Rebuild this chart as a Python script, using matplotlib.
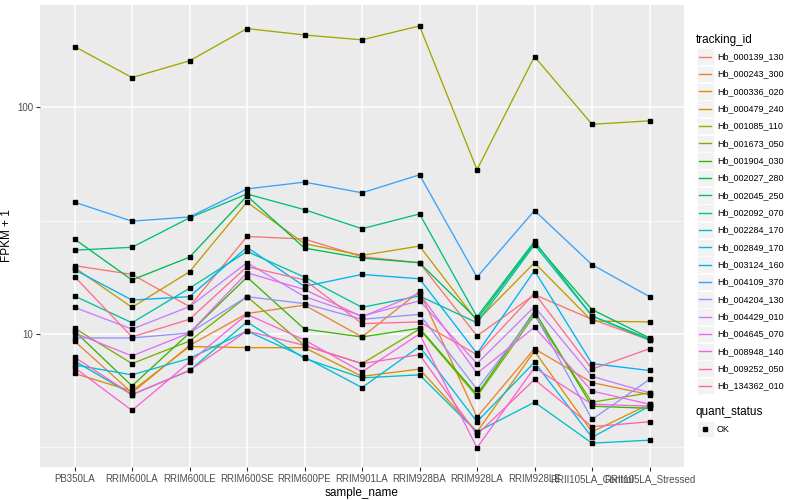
import numpy as np
import matplotlib
matplotlib.use('Agg')
import matplotlib.pyplot as plt
from matplotlib.lines import Line2D
from matplotlib.patches import Rectangle

plt.rcParams['font.family'] = ['Liberation Sans', 'DejaVu Sans']

samples = ['PB350LA', 'RRIM600LA', 'RRIM600LE', 'RRIM600SE', 'RRIM600PE', 'RRIM901LA',
           'RRIM928BA', 'RRIM928LA', 'RRIM928LE', 'RRII105LA_Control', 'RRII105LA_Stressed']

tracking_ids = ['Hb_000139_130', 'Hb_000243_300', 'Hb_000336_020', 'Hb_000479_240',
                'Hb_001085_110', 'Hb_001673_050', 'Hb_001904_030', 'Hb_002027_280',
                'Hb_002045_250', 'Hb_002092_070', 'Hb_002284_170', 'Hb_002849_170',
                'Hb_003124_160', 'Hb_004109_370', 'Hb_004204_130', 'Hb_004429_010',
                'Hb_004645_070', 'Hb_008948_140', 'Hb_009252_050', 'Hb_134362_010']

# ggplot hue palette, 20 levels
colors = ['#F8766D', '#EA8331', '#D89000', '#C09B00', '#A3A500', '#7CAE00', '#39B600',
          '#00BB4E', '#00BF7D', '#00C1A3', '#00BFC4', '#00BAE0', '#00B0F6', '#35A2FF',
          '#9590FF', '#C77CFF', '#E76BF3', '#FA62DB', '#FF62BC', '#FF6C91']

# FPKM + 1 per sample
hb_000139_130 = [20.0, 18.3, 13.2, 26.9, 26.2, 21.9, 20.6, 9.8, 14.9, 11.6, 9.4]
hb_000243_300 = [9.3, 5.5, 8.9, 12.3, 13.4, 9.7, 15.4, 4.3, 8.6, 6.1, 5.4]
hb_000336_020 = [6.7, 5.6, 8.8, 8.7, 8.7, 6.5, 7.0, 3.7, 8.4, 3.7, 4.9]
hb_000479_240 = [19.6, 13.1, 18.8, 38.1, 25.0, 22.2, 24.4, 11.4, 20.6, 11.4, 11.3]
hb_001085_110 = [185, 135, 160, 222, 208, 198, 228, 53, 167, 84, 87]
hb_001673_050 = [10.6, 7.4, 9.3, 14.6, 8.9, 7.4, 10.5, 5.3, 12.1, 5.0, 5.5]
hb_001904_030 = [10.3, 5.9, 10.1, 17.8, 10.5, 9.7, 10.6, 5.4, 12.6, 4.8, 4.7]
hb_002027_280 = [26.2, 17.3, 21.8, 40.6, 23.9, 21.6, 20.6, 11.6, 25.2, 12.8, 9.6]
hb_002045_250 = [23.4, 24.1, 32.5, 41.4, 35.3, 29.1, 33.8, 11.9, 25.6, 12.0, 9.5]
hb_002092_070 = [14.7, 11.2, 15.9, 23.1, 17.8, 13.1, 14.7, 11.2, 24.7, 12.0, 9.4]
hb_002284_170 = [7.6, 5.4, 6.9, 11.3, 7.8, 6.4, 6.6, 3.7, 5.0, 3.3, 3.4]
hb_002849_170 = [7.3, 6.6, 7.8, 10.3, 7.9, 5.8, 8.8, 4.1, 7.5, 3.5, 4.8]
hb_003124_160 = [19.2, 14.1, 14.6, 24.1, 16.2, 18.3, 17.5, 8.2, 19.0, 7.4, 6.9]
hb_004109_370 = [38.1, 31.4, 32.8, 43.6, 46.7, 41.9, 50.3, 17.8, 35.0, 20.2, 14.6]
hb_004204_130 = [9.6, 9.6, 10.1, 14.6, 13.6, 11.6, 12.2, 5.7, 12.3, 4.2, 6.3]
hb_004429_010 = [13.1, 10.5, 13.2, 20.6, 14.6, 12.0, 14.0, 7.4, 13.2, 6.5, 5.5]
hb_004645_070 = [10.1, 8.0, 10.1, 18.6, 15.7, 11.9, 15.1, 6.7, 10.7, 5.6, 4.9]
hb_008948_140 = [7.1, 4.6, 7.5, 12.2, 9.4, 6.8, 10.0, 3.15, 7.1, 4.9, 4.8]
hb_009252_050 = [7.9, 5.4, 6.9, 10.3, 8.9, 7.4, 8.1, 3.6, 6.3, 3.9, 4.1]
hb_134362_010 = [17.9, 9.7, 11.6, 19.8, 17.3, 11.1, 11.3, 8.1, 15.1, 7.0, 8.6]

series = [hb_000139_130, hb_000243_300, hb_000336_020, hb_000479_240, hb_001085_110,
          hb_001673_050, hb_001904_030, hb_002027_280, hb_002045_250, hb_002092_070,
          hb_002284_170, hb_002849_170, hb_003124_160, hb_004109_370, hb_004204_130,
          hb_004429_010, hb_004645_070, hb_008948_140, hb_009252_050, hb_134362_010]

W, H = 800, 500


def fpx(x, y):
    # pixel position -> figure fraction
    return x / W, 1 - y / H


fig = plt.figure(figsize=(8, 5), dpi=100)
ax = fig.add_axes([40 / W, 1 - 467 / H, 644 / W, 462 / H])
ax.set_facecolor('#EBEBEB')
ax.set_axisbelow(True)

x = np.arange(len(samples))
for vals, col in zip(series, colors):
    ax.plot(x, vals, color=col, lw=0.95, zorder=3)
    ax.plot(x, vals, linestyle='none', marker='s', ms=2.3, color='black', zorder=4)

ax.set_yscale('log')
ax.set_ylim(2.59, 282)
ax.set_xlim(-0.6, 10.6)
ax.set_yticks([10, 100])
ax.set_yticklabels(['10', '100'])
ax.set_yticks([10 ** 0.5, 10 ** 1.5], minor=True)
ax.set_yticklabels([], minor=True)
ax.set_xticks(x)
ax.set_xticklabels(samples)

ax.grid(which='major', color='white', lw=1.1)
ax.grid(which='minor', axis='y', color='white', lw=0.5)
for s in ax.spines.values():
    s.set_visible(False)
ax.tick_params(which='major', length=3, color='#333333', labelsize=7, labelcolor='#4D4D4D', pad=2)
ax.tick_params(which='minor', length=0)

ax.set_xlabel('sample_name', fontsize=8.5, labelpad=2)
ax.set_ylabel('FPKM + 1', fontsize=8.5, labelpad=3)

# legend: tracking_id
fig.text(*fpx(696, 40), 'tracking_id', fontsize=8.5, va='center', ha='left')
for i, (tid, col) in enumerate(zip(tracking_ids, colors)):
    yc = 56.7 + i * 17.33
    bx, by = fpx(697, yc + 8.3)
    fig.patches.append(Rectangle((bx, by), 16.5 / W, 16.6 / H, transform=fig.transFigure,
                                 facecolor='#F2F2F2', edgecolor='white', lw=0.5))
    x0, y0 = fpx(699, yc)
    x1, _ = fpx(711, yc)
    fig.lines.append(Line2D([x0, x1], [y0, y0], transform=fig.transFigure, color=col, lw=1.0))
    fig.text(*fpx(717, yc), tid, fontsize=6.5, va='center', ha='left')

# legend: quant_status
fig.text(*fpx(696, 412), 'quant_status', fontsize=8.5, va='center', ha='left')
bx, by = fpx(697, 429 + 8.3)
fig.patches.append(Rectangle((bx, by), 16.5 / W, 16.6 / H, transform=fig.transFigure,
                             facecolor='#F2F2F2', edgecolor='white', lw=0.5))
mx, my = fpx(705, 429)
fig.lines.append(Line2D([mx], [my], transform=fig.transFigure, marker='s', ms=2.3,
                        color='black', linestyle='none'))
fig.text(*fpx(717, 429), 'OK', fontsize=6.5, va='center', ha='left')

fig.savefig('out.png', dpi=100)
plt.close(fig)
